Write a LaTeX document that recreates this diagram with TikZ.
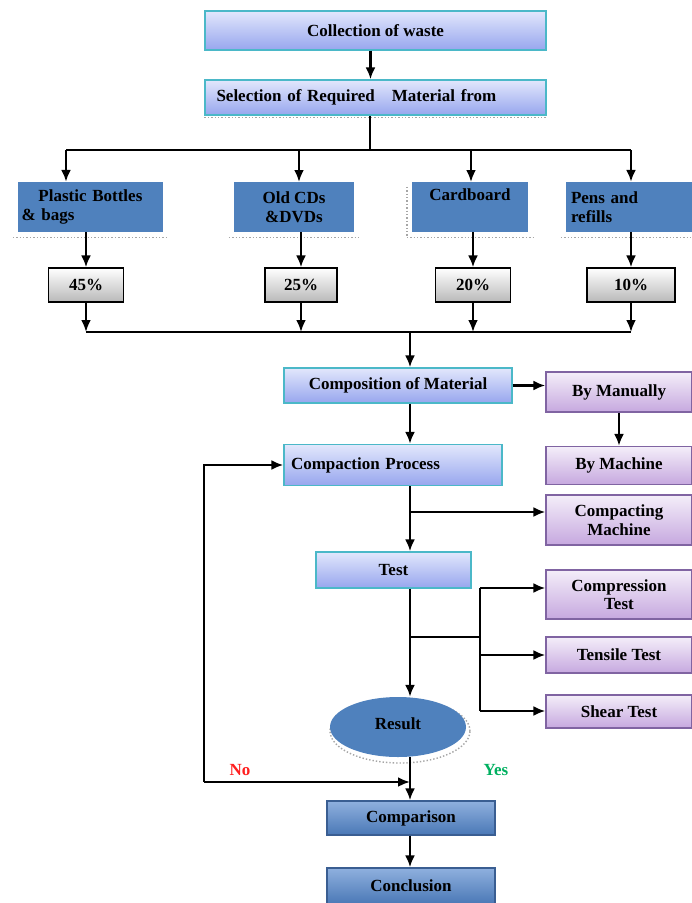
\documentclass[tikz,border=0pt]{standalone}
\usepackage{fontspec}
\setmainfont{Liberation Serif}
\usetikzlibrary{arrows.meta,shapes.geometric}
\definecolor{cyanb}{HTML}{4BB8C8}
\definecolor{bluetop}{HTML}{E2E7FC}
\definecolor{bluebot}{HTML}{97A6EE}
\definecolor{catblue}{HTML}{4F81BD}
\definecolor{purtop}{HTML}{F4EEF9}
\definecolor{purbot}{HTML}{C6A8DF}
\definecolor{purdraw}{HTML}{8064A2}
\definecolor{dktop}{HTML}{8FB0DE}
\definecolor{dkbot}{HTML}{4A78B6}
\definecolor{dkdraw}{HTML}{3A5E92}
\definecolor{nored}{HTML}{FF2020}
\definecolor{yesgreen}{HTML}{00B060}
\begin{document}
\begin{tikzpicture}[x=1pt,y=-1pt,
  every node/.style={font=\fontsize{17}{18.5}\selectfont\bfseries, inner sep=2pt},
  arr/.style={-{Latex[length=12pt,width=10pt]}, line width=2.8pt},
  ln/.style={line width=2.4pt},
  bluebox/.style={draw=cyanb, line width=1.2pt, top color=bluetop, bottom color=bluebot},
  catbox/.style={fill=catblue, text=black},
  pctbox/.style={draw=black, line width=1.2pt, top color=white, bottom color=gray!55},
  purbox/.style={draw=purdraw, line width=1.2pt, top color=purtop, bottom color=purbot, align=center},
  dkbox/.style={draw=dkdraw, line width=1.2pt, top color=dktop, bottom color=dkbot},
  dotline/.style={dotted, line width=1.4pt, gray!70}]
\useasboundingbox (0,0) rectangle (692,903);
\fill[white] (0,0) rectangle (692,903);

% top boxes
\node[bluebox, minimum width=341pt, minimum height=39pt] (coll) at (375.5,30.5) {Collection of waste};
\node[bluebox, minimum width=341pt, minimum height=35pt, text width=318pt, align=left] (sel) at (375.5,97.5) {Selection of Required\ \ \ Material from};
\draw[dotline] ([yshift=-2pt]sel.south west) -- ([yshift=-2pt]sel.south east);

% category boxes
\node[catbox, minimum width=145pt, minimum height=50pt, text width=138pt, align=left] (pb) at (90.5,207) {\hspace*{1em}Plastic Bottles\\\& bags};
\node[catbox, minimum width=120pt, minimum height=50pt, align=center] (cd) at (294,207) {Old CDs\\\&DVDs};
\node[catbox, minimum width=116pt, minimum height=50pt, align=center] (cb) at (470,207) {Cardboard\\\strut};
\node[catbox, minimum width=126pt, minimum height=50pt, text width=116pt, align=left] (pr) at (629,207) {Pens and\\refills};
\foreach \b in {pb,cd,cb,pr}{
  \draw[dotline] ([xshift=-5pt,yshift=-5pt]\b.south west) -- ([xshift=5pt,yshift=-5pt]\b.south east);
}
\draw[dotline] ([xshift=-5pt,yshift=-5pt]cb.north west) -- ([xshift=-5pt,yshift=-5pt]cb.south west);

% percentages
\node[pctbox, minimum width=75pt, minimum height=34pt] (p45) at (86,285) {45\%};
\node[pctbox, minimum width=72pt, minimum height=34pt] (p25) at (301,285) {25\%};
\node[pctbox, minimum width=75pt, minimum height=34pt] (p20) at (473,285) {20\%};
\node[pctbox, minimum width=88pt, minimum height=34pt] (p10) at (631,285) {10\%};

% middle chain
\node[bluebox, minimum width=228pt, minimum height=35pt] (comp) at (398,385.5) {Composition of Material};
\node[bluebox, minimum width=218pt, minimum height=41pt, text width=204pt, align=left] (cpt) at (393,465) {Compaction Process};
\node[bluebox, minimum width=155pt, minimum height=36pt] (test) at (393.5,570) {Test};
\node[ellipse, draw=gray!70, dotted, line width=1.4pt, minimum width=140pt, minimum height=64pt] (resshadow) at (400,731) {};
\node[ellipse, fill=catblue, minimum width=136pt, minimum height=60pt] (res) at (398,727) {\raisebox{6pt}{Result}};
\node[dkbox, minimum width=168pt, minimum height=34pt] (cmpn) at (411,818) {Comparison};
\node[dkbox, minimum width=168pt, minimum height=36pt] (concl) at (411,886) {Conclusion};

% right side boxes
\node[purbox, minimum width=146pt, minimum height=40pt] (man) at (619,392) {By Manually};
\node[purbox, minimum width=146pt, minimum height=38pt] (mach) at (619,465.5) {By Machine};
\node[purbox, minimum width=146pt, minimum height=50pt] (cm) at (619,520) {Compacting\\Machine};
\node[purbox, minimum width=146pt, minimum height=49pt] (cmpr) at (619,594.5) {Compression\\Test};
\node[purbox, minimum width=146pt, minimum height=36pt] (ten) at (619,655) {Tensile Test};
\node[purbox, minimum width=146pt, minimum height=33pt] (shear) at (619,711.5) {Shear Test};

% labels
\node[text=nored] (no) at (240,770) {No};
\node[text=yesgreen] (yes) at (496,770) {Yes};

% coordinates
\coordinate (split) at (370,150);
\coordinate (t1) at (66,150);
\coordinate (t4) at (631,150);
\coordinate (bl) at (410,332);
\coordinate (br1) at (410,512);
\coordinate (tb) at (411,637);
\coordinate (tv) at (480,637);
\coordinate (a1) at (480,588);
\coordinate (a3) at (480,711);
\coordinate (lp) at (204,782);

% connectors
\draw[arr] ([xshift=-5pt]coll.south) -- ([xshift=-5pt]sel.north);
\draw[ln] (split |- sel.south) -- (split);
\draw[ln] (t1) -- (t4);
\draw[arr] (t1) -- (t1 |- pb.north);
\draw[arr] (299,150) -- (299,182);
\draw[arr] (471,150) -- (471,182);
\draw[arr] (t4) -- (t4 |- pr.north);

\draw[arr] (pb.south -| p45) -- (p45.north);
\draw[arr] (cd.south -| p25) -- (p25.north);
\draw[arr] (cb.south -| p20) -- (p20.north);
\draw[arr] (pr.south -| p10) -- (p10.north);

\draw[arr] (p45.south) -- (p45.south |- bl);
\draw[arr] (p25.south) -- (p25.south |- bl);
\draw[arr] (p20.south) -- (p20.south |- bl);
\draw[arr] (p10.south) -- (p10.south |- bl);
\draw[ln] (p45.south |- bl) -- (p10.south |- bl);

\draw[arr] (bl) -- (bl |- comp.north);
\draw[arr] (comp.east) -- (man.west |- comp.east);
\draw[arr] (man.south) -- (mach.north);
\draw[arr] (bl |- comp.south) -- (bl |- cpt.north);
\draw[arr] (bl |- cpt.south) -- (bl |- test.north);
\draw[arr] (br1) -- (cm.west |- br1);

\draw[arr] (bl |- test.south) -- (bl |- res.north);
\draw[ln] (tb) -- (tv);
\draw[ln] (a1) -- (a3);
\draw[arr] (a1) -- (a1 -| cmpr.west);
\draw[arr] (tv |- ten.west) -- (ten.west);
\draw[arr] (a3) -- (a3 -| shear.west);

\draw[arr] (bl |- res.south) -- (bl |- cmpn.north);
\draw[arr] (lp) -- (lp -| bl);
\draw[arr] (lp) |- (cpt.west);
\draw[arr] (bl |- cmpn.south) -- (bl |- concl.north);
\end{tikzpicture}
\end{document}
